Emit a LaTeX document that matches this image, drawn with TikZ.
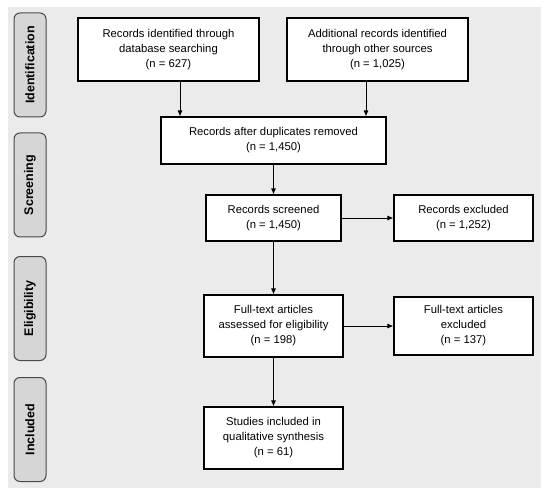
\documentclass[tikz,border=0pt]{standalone}
\usepackage{fontspec}
\setmainfont{Liberation Sans}
\usetikzlibrary{arrows.meta}
\definecolor{bgc}{HTML}{EBEBEB}
\definecolor{labc}{HTML}{D6D6D6}
\definecolor{labd}{HTML}{4A4A4A}
\tikzset{
  x=1pt,y=1pt,
  box/.style={draw=black, line width=1.1pt, fill=white, align=center, inner sep=2pt,
    font=\fontsize{11.3}{15}\selectfont},
  phase/.style={draw=labd, line width=1pt, fill=labc, rounded corners=6pt,
    minimum width=104pt, minimum height=32pt, rotate=90, inner sep=0pt,
    font=\bfseries\fontsize{12.5}{14}\selectfont},
  arr/.style={line width=0.9pt, -{Latex[length=6pt,width=5pt]}}
}
\begin{document}
\begin{tikzpicture}
\useasboundingbox (0,0) rectangle (550,-495);
\fill[bgc] (8,-7) rectangle (541,-488);
\node[phase] (p1) at (30,-65) {Identification};
\node[phase] (p2) at (30,-185) {Screening};
\node[phase] (p3) at (30,-308.5) {Eligibility};
\node[phase] (p4) at (30,-429.5) {Included};
\node[box, minimum width=181pt, minimum height=63pt] (b1) at (168.5,-49.5) {Records identified through\\database searching\\(n = 627)};
\node[box, minimum width=181pt, minimum height=63pt] (b2) at (377.5,-49.5) {Additional records identified\\through other sources\\(n = 1,025)};
\node[box, minimum width=225pt, minimum height=47pt] (b3) at (273.5,-140.5) {Records after duplicates removed\\(n = 1,450)};
\node[box, minimum width=135pt, minimum height=46pt] (b4) at (273.5,-218) {Records screened\\(n = 1,450)};
\node[box, minimum width=139pt, minimum height=46pt] (b5) at (463.5,-218) {Records excluded\\(n = 1,252)};
\node[box, minimum width=139pt, minimum height=62pt] (b6) at (273.5,-326) {Full-text articles\\assessed for eligibility\\(n = 198)};
\node[box, minimum width=139pt, minimum height=58pt] (b7) at (463.5,-326) {Full-text articles\\excluded\\(n = 137)};
\node[box, minimum width=139pt, minimum height=62pt] (b8) at (273.5,-438) {Studies included in\\qualitative synthesis\\(n = 61)};
\draw[arr] ([xshift=11.5pt]b1.south) -- ([xshift=11.5pt]b1.south |- b3.north);
\draw[arr] ([xshift=-11.5pt]b2.south) -- ([xshift=-11.5pt]b2.south |- b3.north);
\draw[arr] (b3.south) -- (b4.north);
\draw[arr] (b4.east) -- (b5.west);
\draw[arr] (b4.south) -- (b6.north);
\draw[arr] (b6.east) -- (b6.east -| b7.west);
\draw[arr] (b6.south) -- (b8.north);
\end{tikzpicture}
\end{document}
